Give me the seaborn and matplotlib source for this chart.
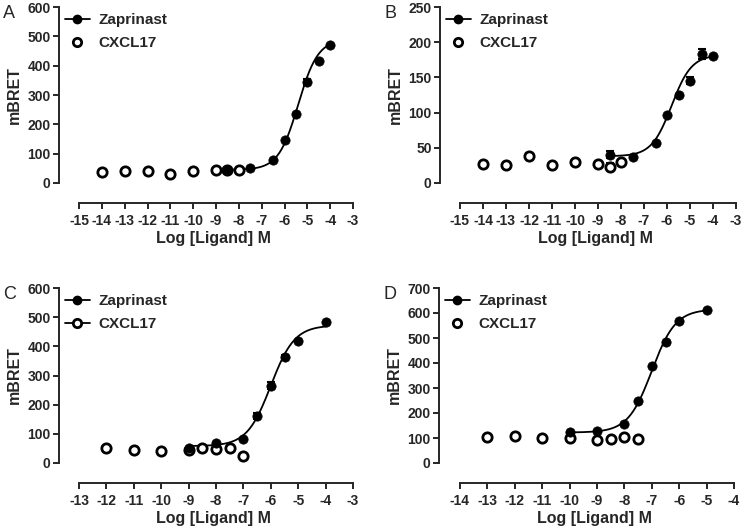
import numpy as np
import pandas as pd
import matplotlib
matplotlib.use("Agg")
import matplotlib.pyplot as plt
import seaborn as sns
from matplotlib.lines import Line2D

sns.set_style("ticks")
plt.rcParams['font.family'] = ['Liberation Sans', 'DejaVu Sans']
plt.rcParams['axes.unicode_minus'] = False

# ---- panel A ----
a_zap_x = [-8.5, -7.5, -6.5, -6, -5.5, -5, -4.5, -4]
a_zap_y = [45, 50, 77, 145, 235, 345, 415, 472]
a_zap_err = [0, 0, 0, 0, 0, 10, 0, 0]
a_cx_x = [-14, -13, -12, -11, -10, -9, -8.5, -8]
a_cx_y = [38, 40, 40, 32, 42, 45, 45, 45]
a_fit = [45, 490, -5.4, 1.0]  # bottom, top, logEC50, hill

# ---- panel B ----
b_zap_x = [-8.5, -7.5, -6.5, -6, -5.5, -5, -4.5, -4]
b_zap_y = [40, 37, 57, 97, 125, 145, 183, 180]
b_zap_err = [5, 0, 0, 0, 0, 5, 7, 0]
b_cx_x = [-14, -13, -12, -11, -10, -9, -8.5, -8]
b_cx_y = [27, 26, 38, 26, 30, 27, 23, 30]
b_cx_err = [0, 0, 4, 0, 2, 0, 5, 0]
b_fit = [38, 182, -5.8, 1.0]

# ---- panel C ----
c_zap_x = [-9, -8, -7, -6.5, -6, -5.5, -5, -4]
c_zap_y = [50, 68, 82, 160, 265, 362, 418, 483]
c_zap_err = [0, 0, 0, 10, 12, 10, 0, 0]
c_cx_x = [-12, -11, -10, -9, -8.5, -8, -7.5, -7]
c_cx_y = [50, 43, 42, 45, 50, 48, 52, 25]
c_fit = [58, 472, -6.0, 1.0]

# ---- panel D ----
d_zap_x = [-10, -9, -8, -7.5, -7, -6.5, -6, -5]
d_zap_y = [125, 128, 158, 250, 388, 485, 568, 612]
d_zap_err = [0, 0, 0, 0, 0, 0, 0, 0]
d_cx_x = [-13, -12, -11, -10, -9, -8.5, -8, -7.5]
d_cx_y = [105, 108, 100, 100, 93, 95, 105, 98]
d_fit = [122, 615, -7.0, 1.0]

W, H = 742, 530
fig = plt.figure(figsize=(W / 100, H / 100), dpi=100)


def px_axes(left, top, right, bottom):
    return fig.add_axes([left / W, 1 - bottom / H, (right - left) / W, (bottom - top) / H])


def logistic(x, p):
    bottom, top, ec50, hill = p
    return bottom + (top - bottom) / (1 + 10 ** ((ec50 - x) * hill))


def panel(ax, letter, zx, zy, zerr, cx, cy, cerr, fit, xticks, ymax, ystep,
          xleft, cx_line=False):
    xs = np.linspace(min(zx), max(zx), 200)
    sns.lineplot(x=xs, y=logistic(xs, fit), ax=ax, color='black', lw=1.3)
    ax.errorbar(zx, zy, yerr=zerr, fmt='none', ecolor='black', elinewidth=1.5,
                capsize=3, capthick=1.5, zorder=3)
    if cerr is not None:
        ax.errorbar(cx, cy, yerr=cerr, fmt='none', ecolor='black', elinewidth=1.5,
                    capsize=3, capthick=1.5, zorder=3)
    sns.scatterplot(x=cx, y=cy, ax=ax, marker='o', s=45, facecolor='white',
                    edgecolor='black', linewidth=2, zorder=4, clip_on=False)
    sns.scatterplot(x=zx, y=zy, ax=ax, marker='o', s=45, color='black',
                    edgecolor='black', linewidth=0.5, zorder=5, clip_on=False)

    ax.set_xlim(xleft, xticks[-1])
    ax.set_ylim(0, ymax)
    ax.set_xticks(xticks)
    ax.set_xticklabels([str(t) for t in xticks])
    ax.set_yticks(np.arange(0, ymax + 1, ystep))
    sns.despine(ax=ax)
    ax.spines['bottom'].set_position(('outward', 14.5))
    ax.spines['bottom'].set_bounds(xticks[0], xticks[-1])
    for s in ('left', 'bottom'):
        ax.spines[s].set_linewidth(1.4)
    ax.tick_params(width=1.4, length=4, labelsize=10, pad=2)
    ax.tick_params(axis='x', pad=4)
    for lab in ax.get_xticklabels() + ax.get_yticklabels():
        lab.set_fontweight('bold')
    ax.set_xlabel('Log [Ligand] M', fontsize=11.5, fontweight='bold')
    ax.set_ylabel('mBRET', fontsize=11.5, fontweight='bold', labelpad=4)
    # centre the x label under the detached x spine
    x0, x1 = ax.get_xlim()
    ax.xaxis.set_label_coords(((xticks[0] + xticks[-1]) / 2 - x0) / (x1 - x0) - 0.01,
                              -0.275)

    h1 = Line2D([], [], color='black', lw=1.3, marker='o', markersize=6,
                markerfacecolor='black')
    h2 = Line2D([], [], color='black', lw=1.3 if cx_line else 0, marker='o',
                markersize=6, markerfacecolor='white', markeredgewidth=2)
    ax.legend([h1, h2], ['Zaprinast', 'CXCL17'], loc='upper left',
              bbox_to_anchor=(0.0, 1.0), frameon=False, handlelength=1.6,
              handletextpad=0.6, labelspacing=0.6, borderaxespad=0,
              prop={'weight': 'bold', 'size': 11})
    fig.text(ax.get_position().x0 - 56 / W, ax.get_position().y1 + 2 / H, letter,
             fontsize=13, va='top', ha='left')


axA = px_axes(59, 7, 353, 183)
panel(axA, 'A', a_zap_x, a_zap_y, a_zap_err, a_cx_x, a_cx_y, None, a_fit,
      list(range(-15, -2)), 600, 100, -15 - 20 / 22.83)

axB = px_axes(440, 7, 736, 183)
panel(axB, 'B', b_zap_x, b_zap_y, b_zap_err, b_cx_x, b_cx_y, b_cx_err, b_fit,
      list(range(-15, -2)), 250, 50, -15 - 20 / 23.0)

axC = px_axes(59, 288, 353, 463)
panel(axC, 'C', c_zap_x, c_zap_y, c_zap_err, c_cx_x, c_cx_y, None, c_fit,
      list(range(-13, -2)), 600, 100, -13 - 20 / 27.4, cx_line=True)

axD = px_axes(439, 288, 734, 463)
panel(axD, 'D', d_zap_x, d_zap_y, d_zap_err, d_cx_x, d_cx_y, None, d_fit,
      list(range(-14, -3)), 700, 100, -14 - 21 / 27.4)

fig.savefig('out.png', dpi=100)
